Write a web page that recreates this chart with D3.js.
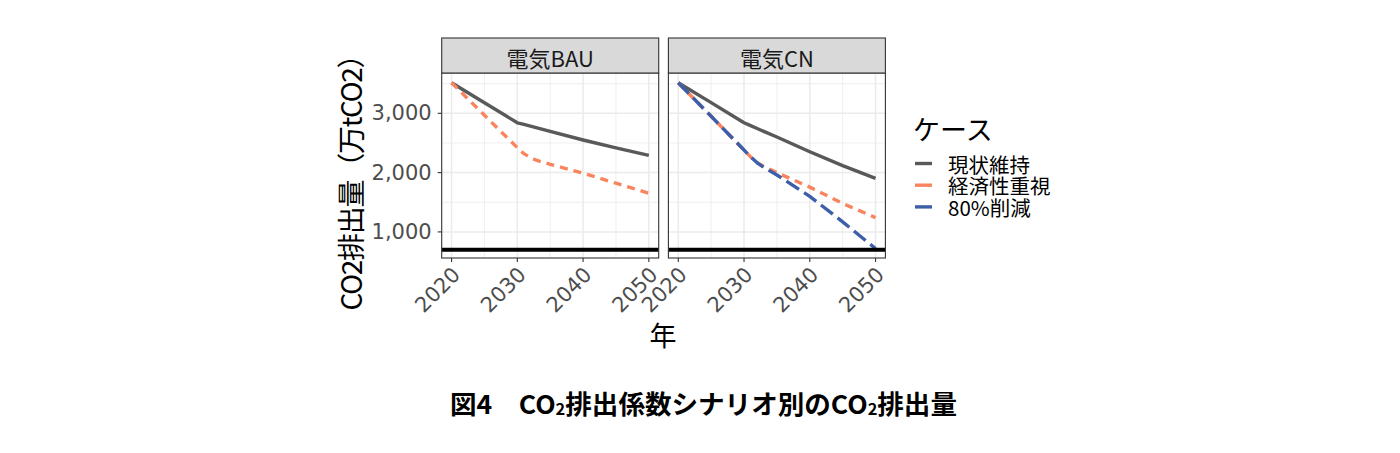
<!DOCTYPE html>
<html>
<head>
<meta charset="utf-8">
<script src="https://cdn.jsdelivr.net/npm/d3@7"></script>
<style>
  html, body { margin: 0; padding: 0; background: #ffffff; }
  svg { display: block; }
</style>
</head>
<body>
<svg id="chart" width="1400" height="453"></svg>
<script>
// ---------------- data ----------------
const panels = ["電気BAU", "電気CN"];
const years = [2020, 2025, 2030, 2031, 2032, 2033, 2035, 2040, 2045, 2050];
// 電気BAU
const bauGenjo  = [3516, 3178, 2840, 2812, 2784, 2756, 2695, 2550, 2418, 2292];
const bauKeizai = [3516, 2968, 2420, 2320, 2250, 2205, 2140, 1990, 1822, 1651];
// 電気CN
const cnGenjo   = [3516, 3180, 2842, 2793, 2744, 2695, 2600, 2352, 2117, 1904];
const cnKeizai  = [3516, 2950, 2381, 2265, 2165, 2105, 2000, 1755, 1480, 1241];
const cn80      = [3516, 2950, 2381, 2265, 2165, 2090, 1960, 1600, 1170, 720];
const cases = ["現状維持", "経済性重視", "80%削減"];
const caseColors = ["#595959", "#F8855E", "#3D5EA8"];
const caseDash = [null, "8,6", "15,6"];
const refLine = 700;
const xTicks = [2020, 2030, 2040, 2050];
const xMinor = [2025, 2035, 2045];
const yTicks = [1000, 2000, 3000];
const yMinor = [1500, 2500, 3500];
const panelSeries = [
  [bauGenjo, bauKeizai],
  [cnGenjo, cnKeizai, cn80]
];
const yTitle = "CO2排出量（万tCO2）";
const xTitle = "年";
const legendTitle = "ケース";

// ---------------- layout ----------------
const svg = d3.select("#chart");
svg.append("rect").attr("width", 1400).attr("height", 453).attr("fill", "#fff");

const panelW = 217, panelGap = 226.7 - 217;
const panelLeft0 = 441.7;
const stripTop = 38, panelTop = 73, panelBottom = 258;
const y = d3.scaleLinear().domain([560, 3680]).range([panelBottom, panelTop]);

const sans = "'Noto Sans CJK JP', 'Noto Sans', sans-serif";
const tickFont = "'DejaVu Sans', 'Noto Sans', sans-serif";

panels.forEach((name, pi) => {
  const left = panelLeft0 + pi * (panelW + panelGap);
  const x = d3.scaleLinear().domain([2018.5, 2051.5]).range([left, left + panelW]);
  const g = svg.append("g");

  g.append("rect").attr("x", left).attr("y", panelTop)
    .attr("width", panelW).attr("height", panelBottom - panelTop).attr("fill", "#fff");

  // minor grid
  g.selectAll(".ymin").data(yMinor).join("line")
    .attr("x1", left).attr("x2", left + panelW)
    .attr("y1", d => y(d)).attr("y2", d => y(d))
    .attr("stroke", "#EBEBEB").attr("stroke-width", 0.8);
  g.selectAll(".xmin").data(xMinor).join("line")
    .attr("y1", panelTop).attr("y2", panelBottom)
    .attr("x1", d => x(d)).attr("x2", d => x(d))
    .attr("stroke", "#EBEBEB").attr("stroke-width", 0.8);
  // major grid
  g.selectAll(".ymaj").data(yTicks).join("line")
    .attr("x1", left).attr("x2", left + panelW)
    .attr("y1", d => y(d)).attr("y2", d => y(d))
    .attr("stroke", "#EBEBEB").attr("stroke-width", 1.5);
  g.selectAll(".xmaj").data(xTicks).join("line")
    .attr("y1", panelTop).attr("y2", panelBottom)
    .attr("x1", d => x(d)).attr("x2", d => x(d))
    .attr("stroke", "#EBEBEB").attr("stroke-width", 1.5);

  // lines
  const line = d3.line().x((d, i) => x(years[i])).y(d => y(d));
  panelSeries[pi].forEach((vals, si) => {
    g.append("path").datum(vals)
      .attr("d", line)
      .attr("fill", "none")
      .attr("stroke", caseColors[si])
      .attr("stroke-width", 3.4)
      .attr("stroke-dasharray", caseDash[si])
      .attr("stroke-linejoin", "round");
  });

  // reference hline
  g.append("line").attr("x1", left).attr("x2", left + panelW)
    .attr("y1", y(refLine)).attr("y2", y(refLine))
    .attr("stroke", "#000").attr("stroke-width", 4);

  // panel border
  g.append("rect").attr("x", left).attr("y", panelTop)
    .attr("width", panelW).attr("height", panelBottom - panelTop)
    .attr("fill", "none").attr("stroke", "#333333").attr("stroke-width", 1.1);

  // strip
  g.append("rect").attr("x", left).attr("y", stripTop)
    .attr("width", panelW).attr("height", panelTop - stripTop)
    .attr("fill", "#D9D9D9").attr("stroke", "#333333").attr("stroke-width", 1.1);
  g.append("text").attr("x", left + panelW / 2).attr("y", (stripTop + panelTop) / 2 + 1)
    .attr("text-anchor", "middle").attr("dominant-baseline", "central")
    .attr("font-family", sans).attr("font-size", 22).attr("fill", "#1A1A1A")
    .text(name);

  // x axis ticks
  g.selectAll(".xt").data(xTicks).join("line")
    .attr("x1", d => x(d)).attr("x2", d => x(d))
    .attr("y1", panelBottom).attr("y2", panelBottom + 4)
    .attr("stroke", "#333333").attr("stroke-width", 1.1);
  g.selectAll(".xl").data(xTicks).join("text")
    .attr("transform", d => `translate(${x(d) + 10},${panelBottom + 18}) rotate(-45)`)
    .attr("text-anchor", "end")
    .attr("font-family", tickFont).attr("font-size", 21).attr("fill", "#4D4D4D")
    .text(d => d);

  // y axis (first panel only)
  if (pi === 0) {
    g.selectAll(".yt").data(yTicks).join("line")
      .attr("x1", left - 4).attr("x2", left)
      .attr("y1", d => y(d)).attr("y2", d => y(d))
      .attr("stroke", "#333333").attr("stroke-width", 1.1);
    g.selectAll(".yl").data(yTicks).join("text")
      .attr("x", left - 10).attr("y", d => y(d))
      .attr("text-anchor", "end").attr("dominant-baseline", "central")
      .attr("font-family", tickFont).attr("font-size", 21).attr("fill", "#4D4D4D")
      .text(d => d3.format(",")(d));
  }
});

// axis titles
svg.append("text")
  .attr("transform", "translate(350,175.5) rotate(-90)")
  .attr("text-anchor", "middle").attr("dominant-baseline", "central")
  .attr("font-family", sans).attr("font-size", 28).attr("fill", "#000")
  .attr("textLength", 270).attr("lengthAdjust", "spacing")
  .text(yTitle);
svg.append("text")
  .attr("x", 663).attr("y", 334)
  .attr("text-anchor", "middle").attr("dominant-baseline", "central")
  .attr("font-family", sans).attr("font-size", 27).attr("fill", "#000")
  .text(xTitle);

// legend
const lg = svg.append("g");
lg.append("text").attr("x", 913).attr("y", 128)
  .attr("dominant-baseline", "central")
  .attr("font-family", sans).attr("font-size", 27).attr("fill", "#000")
  .text(legendTitle);
cases.forEach((c, i) => {
  const cy = 163.5 + i * 21.7;
  lg.append("line").attr("x1", 915).attr("x2", 932)
    .attr("y1", cy).attr("y2", cy)
    .attr("stroke", caseColors[i]).attr("stroke-width", 3.4);
  lg.append("text").attr("x", 948).attr("y", cy)
    .attr("dominant-baseline", "central")
    .attr("font-family", sans).attr("font-size", 20.5).attr("fill", "#000")
    .text(c);
});

// caption
const cap = svg.append("text")
  .attr("x", 450).attr("y", 402)
  .attr("dominant-baseline", "central")
  .attr("font-family", sans).attr("font-size", 26).attr("font-weight", "bold").attr("fill", "#000");
const capParts = [["図4　CO", false], ["2", true], ["排出係数シナリオ別のCO", false], ["2", true], ["排出量", false]];
capParts.forEach(([t, sub], i) => {
  const ts = cap.append("tspan").text(t);
  if (sub) ts.attr("font-size", 16).attr("dy", 6);
  else if (i > 0 && capParts[i - 1][1]) ts.attr("dy", -6);
});
cap.attr("textLength", 507).attr("lengthAdjust", "spacingAndGlyphs");
</script>
</body>
</html>
